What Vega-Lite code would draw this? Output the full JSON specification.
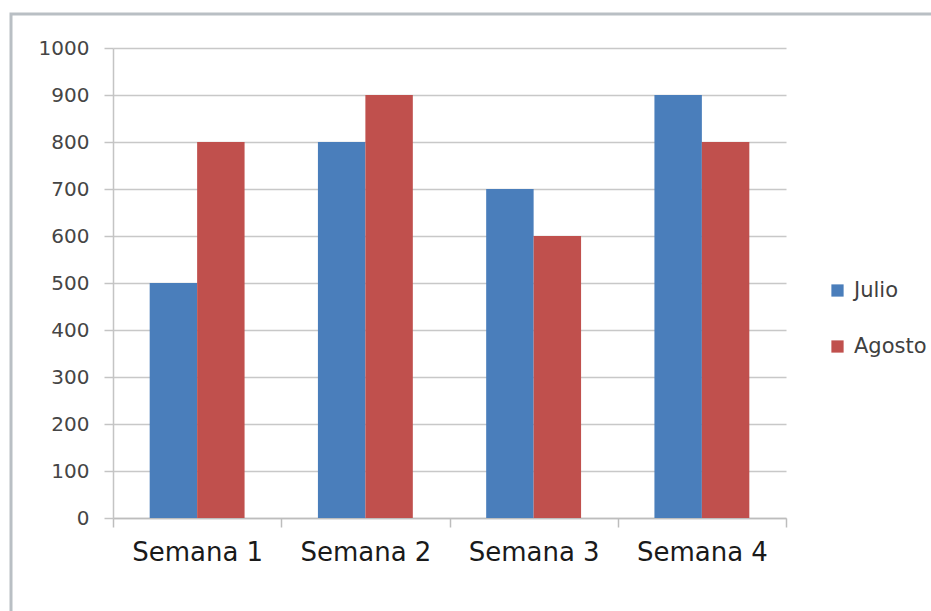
{
  "$schema": "https://vega.github.io/schema/vega-lite/v6.json",
  "description": "Ventas semanales de julio y agosto, columnas agrupadas por semana.",
  "width": 925,
  "height": 600,
  "autosize": {"type": "none"},
  "padding": {"left": 11, "top": 14, "right": 0, "bottom": 0},
  "background": "white",
  "config": {
    "font": "DejaVu Sans",
    "view": {"stroke": "#b9bfc4", "strokeWidth": 3}
  },
  "data": {
    "values": [
      {"semana": "Semana 1", "mes": "Julio", "valor": 500},
      {"semana": "Semana 1", "mes": "Agosto", "valor": 800},
      {"semana": "Semana 2", "mes": "Julio", "valor": 800},
      {"semana": "Semana 2", "mes": "Agosto", "valor": 900},
      {"semana": "Semana 3", "mes": "Julio", "valor": 700},
      {"semana": "Semana 3", "mes": "Agosto", "valor": 600},
      {"semana": "Semana 4", "mes": "Julio", "valor": 900},
      {"semana": "Semana 4", "mes": "Agosto", "valor": 800}
    ]
  },
  "mark": {"type": "bar"},
  "encoding": {
    "x": {
      "field": "semana",
      "type": "nominal",
      "sort": ["Semana 1", "Semana 2", "Semana 3", "Semana 4"],
      "scale": {"range": [102, 775], "paddingInner": 0, "paddingOuter": 0},
      "axis": {
        "title": null,
        "offset": -96,
        "labelAngle": 0,
        "labelFontSize": 26,
        "labelColor": "#1a1a1a",
        "labelPadding": 12,
        "tickBand": "extent",
        "tickSize": 9,
        "tickColor": "#bdbdbd",
        "tickWidth": 1.5,
        "domainColor": "#bdbdbd",
        "domainWidth": 1.5
      }
    },
    "xOffset": {
      "field": "mes",
      "sort": ["Julio", "Agosto"],
      "scale": {"paddingInner": 0, "paddingOuter": 0.773}
    },
    "y": {
      "field": "valor",
      "type": "quantitative",
      "scale": {"domain": [0, 1000], "range": [504, 34], "nice": false},
      "axis": {
        "title": null,
        "offset": -102,
        "format": "d",
        "values": [0, 100, 200, 300, 400, 500, 600, 700, 800, 900, 1000],
        "labelFontSize": 20,
        "labelColor": "#454545",
        "labelPadding": 15,
        "tickSize": 9,
        "tickColor": "#c4c4c4",
        "tickWidth": 1.5,
        "domainColor": "#c4c4c4",
        "domainWidth": 1.5,
        "grid": true,
        "gridColor": "#c8c8c8",
        "gridWidth": 1.5
      }
    },
    "color": {
      "field": "mes",
      "type": "nominal",
      "scale": {"domain": ["Julio", "Agosto"], "range": ["#4a7ebb", "#c0504d"]},
      "legend": {
        "title": null,
        "orient": "none",
        "legendX": 816,
        "legendY": 266,
        "padding": 0,
        "symbolType": "square",
        "symbolSize": 150,
        "symbolStrokeWidth": 0,
        "labelFontSize": 21,
        "labelColor": "#404040",
        "labelOffset": 6,
        "rowPadding": 34
      }
    }
  }
}
